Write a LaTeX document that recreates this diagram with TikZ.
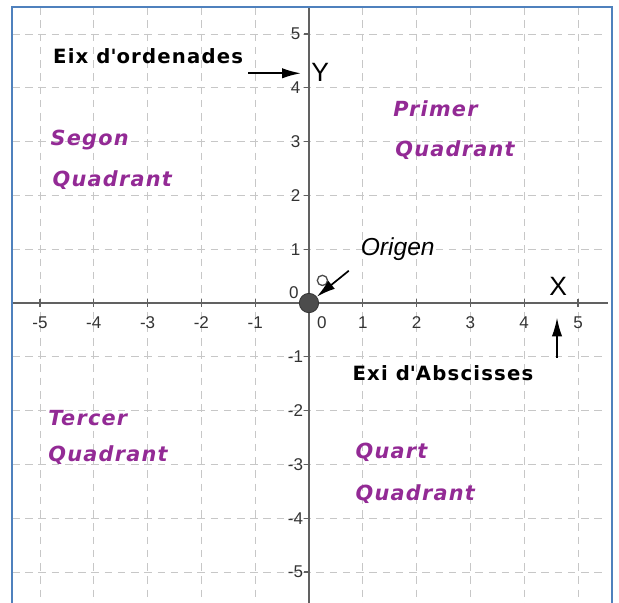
\documentclass[tikz,border=0pt]{standalone}
\usepackage{fontspec}
\usepackage{xcolor}
\usetikzlibrary{arrows.meta}
\newfontfamily\quadfont[LetterSpace=6]{DejaVu Sans}
\newfontfamily\arialfont{Liberation Sans}
\definecolor{quadpurple}{RGB}{147,42,149}
\definecolor{frameblue}{RGB}{79,129,189}

\begin{document}
\begin{tikzpicture}[
  gridline/.style={black!22,dash pattern=on 4pt off 3pt,line width=0.4pt},
  axisline/.style={black!62,line width=1.2pt},
  pointer/.style={-{Latex[length=10pt,width=5.5pt]},line width=0.9pt},
  ticknum/.style={font=\arialfont\fontsize{9}{10}\selectfont,text=black!80,inner sep=0pt},
  quadrant/.style={text=quadpurple,font=\quadfont\bfseries\itshape\fontsize{11}{12}\selectfont,anchor=west,inner sep=0pt},
  axislabel/.style={font=\quadfont\bfseries\fontsize{10.4}{12}\selectfont,inner sep=0pt},
  letter/.style={font=\arialfont\fontsize{14}{16}\selectfont,inner sep=0pt}
]
\useasboundingbox (-5.743,-5.558) rectangle (5.762,5.632);

\foreach \k in {-5,...,5}{
  \draw[gridline] (\k,5.5) -- (\k,-5.7);
  \draw[gridline] (-5.52,\k) -- (5.55,\k);
}

\draw[axisline] (-5.52,0) -- (5.55,0);
\draw[axisline] (0,5.5) -- (0,-5.7);

\foreach \k in {-5,...,-1,1,2,...,5}{
  \draw[black!62,line width=0.7pt] (\k,0.07) -- (\k,-0.07);
  \draw[black!62,line width=0.7pt] (-0.1,\k) -- (0,\k);
  \node[ticknum] (xn\k) at (\k,-0.36) {\k};
  \node[ticknum] (yn\k) at (-0.25,\k) {\k};
}
\node[ticknum] (xn0) at (0.24,-0.36) {0};
\node[ticknum] (yn0) at (-0.28,0.19) {0};

\node[circle,fill=black!70,draw=black!80,minimum size=0.36cm,inner sep=0pt] (orig) at (0,0) {};
\node[circle,draw=black!70,line width=0.7pt,minimum size=0.19cm,inner sep=0pt] (ocirc) at (0.25,0.42) {};
\node[letter,font=\arialfont\itshape\fontsize{13}{15}\selectfont] (origen) at (1.65,1.0) {Origen};
\coordinate (otail) at (0.74,0.6);
\draw[pointer] (otail) -- (orig);

\node[letter] (xlet) at (4.63,0.30) {X};
\coordinate (xtail) at (4.61,-1.02);
\coordinate (xtip) at (4.61,-0.27);
\draw[pointer] (xtail) -- (xtip);

\node[letter] (ylet) at (0.21,4.29) {Y};
\coordinate (ytail) at (-1.13,4.27);
\coordinate (ytip) at (-0.15,4.27);
\draw[pointer] (ytail) -- (ytip);

\node[axislabel] (ordlab) at (-2.99,4.58) {Eix d\textquotesingle ordenades};
\node[axislabel] (abslab) at (2.49,-1.30) {Exi d\textquotesingle Abscisses};

\node[quadrant] (q1a) at (1.56,3.62) {Primer};
\node[quadrant] (q1b) at (1.60,2.84) {Quadrant};
\node[quadrant] (q2a) at (-4.81,3.03) {Segon};
\node[quadrant] (q2b) at (-4.77,2.29) {Quadrant};
\node[quadrant] (q3a) at (-4.85,-2.14) {Tercer};
\node[quadrant] (q3b) at (-4.85,-2.83) {Quadrant};
\node[quadrant] (q4a) at (0.86,-2.77) {Quart};
\node[quadrant] (q4b) at (0.86,-3.55) {Quadrant};

\draw[frameblue,line width=1.2pt] (-5.52,-5.8) -- (-5.52,5.5) -- (5.63,5.5) -- (5.63,-5.8);
\end{tikzpicture}
\end{document}
